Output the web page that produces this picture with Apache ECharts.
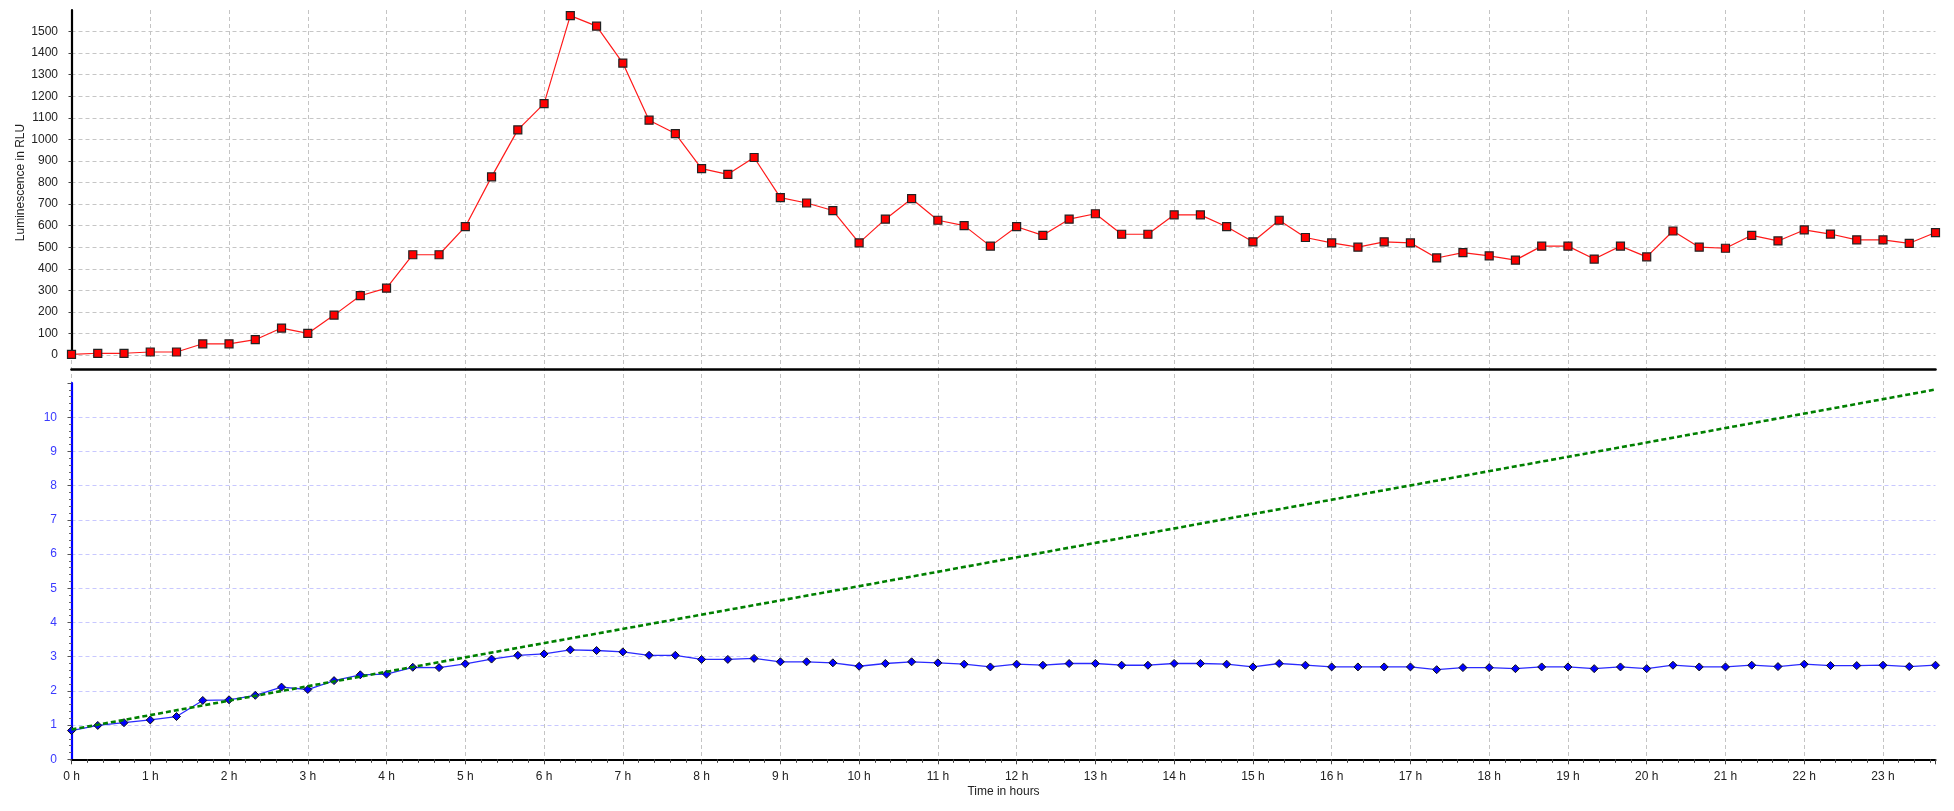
<!DOCTYPE html>
<html>
<head>
<meta charset="utf-8">
<title>Luminescence and growth over time</title>
<script src="https://cdn.jsdelivr.net/npm/echarts@6/dist/echarts.min.js"></script>
<style>
  html, body { margin: 0; padding: 0; background: #ffffff; }
  #chart { width: 1954px; height: 811px; }
</style>
</head>
<body>
<div id="chart"></div>
<script>
// Sampling times, minutes after start (one reading every 20 minutes)
const sampleMinutes = [
  0, 20, 40, 60, 80, 100, 120, 140, 160, 180, 200, 220,
  240, 260, 280, 300, 320, 340, 360, 380, 400, 420, 440, 460,
  480, 500, 520, 540, 560, 580, 600, 620, 640, 660, 680, 700,
  720, 740, 760, 780, 800, 820, 840, 860, 880, 900, 920, 940,
  960, 980, 1000, 1020, 1040, 1060, 1080, 1100, 1120, 1140, 1160, 1180,
  1200, 1220, 1240, 1260, 1280, 1300, 1320, 1340, 1360, 1380, 1400, 1420
];

// Luminescence (RLU)
const luminescence = [
  3, 8, 8, 14, 14, 52, 52, 71, 125, 100, 185, 275,
  310, 465, 465, 595, 826, 1044, 1166, 1574, 1525, 1354, 1089, 1027,
  864, 838, 916, 730, 705, 670, 520, 630, 725, 625, 600, 505,
  595, 555, 630, 655, 560, 560, 650, 650, 595, 525, 625, 545,
  520, 500, 525, 520, 450, 475, 460, 440, 505, 505, 445, 505,
  455, 575, 500, 495, 555, 529, 580, 561, 534, 534, 518, 568
];

// Optical density
const density = [
  0.84, 0.99, 1.07, 1.15, 1.25, 1.72, 1.74, 1.87, 2.11, 2.04, 2.30, 2.47,
  2.49, 2.69, 2.68, 2.79, 2.93, 3.04, 3.08, 3.20, 3.18, 3.14, 3.04, 3.04,
  2.92, 2.92, 2.95, 2.85, 2.85, 2.82, 2.72, 2.80, 2.85, 2.82, 2.78, 2.70,
  2.78, 2.75, 2.80, 2.80, 2.75, 2.75, 2.80, 2.80, 2.78, 2.70, 2.80, 2.75,
  2.70, 2.70, 2.70, 2.70, 2.62, 2.68, 2.68, 2.65, 2.70, 2.70, 2.65, 2.70,
  2.65, 2.75, 2.70, 2.70, 2.75, 2.71, 2.78, 2.74, 2.74, 2.75, 2.71, 2.75
];

// Reference growth line (hours, density)
const trendHours = [0, 5, 10, 15, 20, 23.667];
const trendDensity = [0.87, 2.98, 5.06, 7.17, 9.26, 10.81];

const toHours = m => m / 60;
const lumData = sampleMinutes.map((m, i) => [toHours(m), luminescence[i]]);
const odData = sampleMinutes.map((m, i) => [toHours(m), density[i]]);
const trendData = trendHours.map((h, i) => [h, trendDensity[i]]);
const lastHour = toHours(sampleMinutes[sampleMinutes.length - 1]);

const FONT = "'Liberation Sans', Arial, sans-serif";
const plotLeft = 71.5;
const plotWidth = 1864;

const chart = echarts.init(document.getElementById('chart'), null, { renderer: 'canvas' });

chart.setOption({
  animation: false,
  backgroundColor: '#ffffff',
  grid: [
    { left: plotLeft, top: 10, width: plotWidth, height: 345 },
    { left: plotLeft, top: 383, width: plotWidth, height: 376.3 },
    { left: plotLeft, top: 10, width: plotWidth, height: 749.3 }
  ],
  xAxis: [
    {
      // luminescence panel: only its baseline
      type: 'value', gridIndex: 0, min: 0, max: lastHour,
      axisLine: { show: true, onZero: false, lineStyle: { color: '#000', width: 2.6 } },
      offset: 14.5,
      axisTick: { show: false }, axisLabel: { show: false }, splitLine: { show: false }
    },
    {
      // density panel: labelled time axis
      type: 'value', gridIndex: 1, min: 0, max: lastHour, interval: 1,
      name: 'Time in hours', nameLocation: 'middle', nameGap: 26,
      nameTextStyle: { color: '#222', fontSize: 12, fontFamily: FONT },
      axisLine: { show: true, onZero: false, lineStyle: { color: '#000', width: 2.2 } },
      axisTick: { show: true, length: 5, lineStyle: { color: '#444', width: 1 } },
      minorTick: { show: true, splitNumber: 5, length: 3.5, lineStyle: { color: '#444', width: 1 } },
      axisLabel: {
        color: '#222', fontSize: 12, fontFamily: FONT, margin: 11,
        formatter: v => (Math.abs(v - Math.round(v)) < 1e-6 ? Math.round(v) + ' h' : '')
      },
      splitLine: { show: false }
    },
    {
      // hourly vertical grid running through both panels
      type: 'value', gridIndex: 2, min: 0, max: lastHour, interval: 1,
      axisLine: { show: false }, axisTick: { show: false }, axisLabel: { show: false },
      splitLine: { show: true, showMinLine: true, showMaxLine: false,
        lineStyle: { color: '#c4c4c4', width: 1, type: [4, 3] } }
    }
  ],
  yAxis: [
    {
      type: 'value', gridIndex: 0, min: 0, max: 1600, interval: 100, offset: 5.5,
      name: 'Luminescence in RLU', nameLocation: 'middle', nameGap: 39,
      nameMoveOverlap: false,
      nameTextStyle: { color: '#222', fontSize: 12, fontFamily: FONT },
      axisLine: { show: true, lineStyle: { color: '#000', width: 2.2 } },
      axisTick: { show: true, length: 3, lineStyle: { color: '#444' } },
      axisLabel: {
        color: '#222', fontSize: 12, fontFamily: FONT, margin: 8, showMaxLabel: false,
        formatter: v => String(v)
      },
      splitLine: { show: true, showMaxLine: false,
        lineStyle: { color: '#c6c6c6', width: 1, type: [4, 3] } }
    },
    {
      type: 'value', gridIndex: 1, min: 0, max: 11, interval: 1, offset: 5.5,
      axisLine: { show: true, lineStyle: { color: '#0000ff', width: 2.2 } },
      axisTick: { show: true, length: 4, lineStyle: { color: '#555' } },
      minorTick: { show: true, splitNumber: 5, length: 2.5, lineStyle: { color: '#666' } },
      axisLabel: {
        color: '#3a3aff', fontSize: 12, fontFamily: FONT, margin: 9, showMaxLabel: false,
        formatter: v => String(v)
      },
      splitLine: { show: true, showMinLine: false, showMaxLine: false,
        lineStyle: { color: '#c8c8ff', width: 1, type: [4, 3] } }
    },
    {
      type: 'value', gridIndex: 2, min: 0, max: 1, show: false,
      splitLine: { show: false }
    }
  ],
  series: [
    {
      name: 'Luminescence', type: 'line', xAxisIndex: 0, yAxisIndex: 0,
      data: lumData, symbol: 'rect', symbolSize: 8,
      lineStyle: { color: '#ff1a1a', width: 1.2 },
      itemStyle: { color: '#ff0000', borderColor: '#222', borderWidth: 1.2 },
      z: 3
    },
    {
      name: 'OD', type: 'line', xAxisIndex: 1, yAxisIndex: 1,
      data: odData, symbol: 'diamond', symbolSize: 8,
      lineStyle: { color: '#2a2aff', width: 1.3 },
      itemStyle: { color: '#0000ff', borderColor: '#111', borderWidth: 1 },
      z: 3
    },
    {
      name: 'Trend', type: 'line', xAxisIndex: 1, yAxisIndex: 1,
      data: trendData, showSymbol: false, symbol: 'none',
      lineStyle: { color: '#008000', width: 2.6, type: [5, 3] },
      z: 4
    }
  ]
});
</script>
</body>
</html>
